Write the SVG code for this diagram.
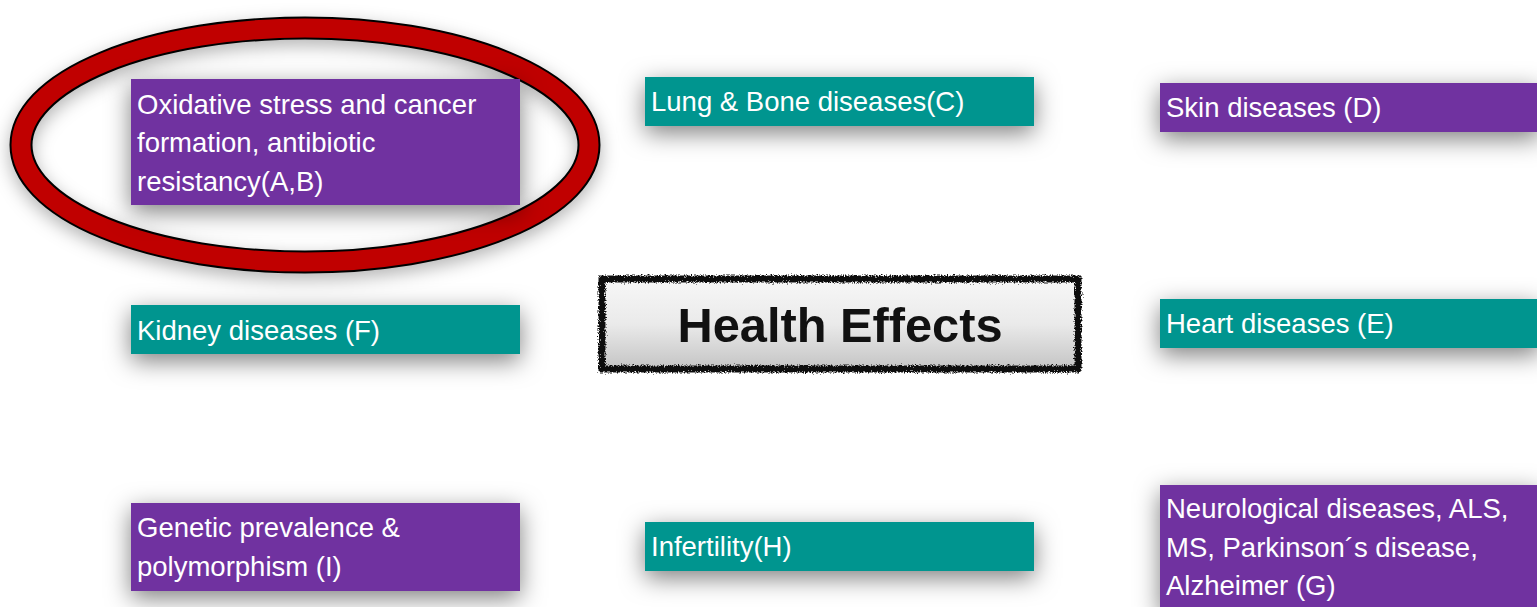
<svg xmlns="http://www.w3.org/2000/svg" width="1537" height="607" viewBox="0 0 1537 607">
<style>
.lbl{font-family:"Liberation Sans","Open Sans",Arial,sans-serif;font-size:27.5px;fill:#ffffff}
.purple{fill:#7030A0}
.teal{fill:#00958F}
.title{font-family:"Liberation Sans",Arial,sans-serif;font-size:48px;font-weight:bold;fill:#111111}
</style>
<defs>
<filter id="sh" x="-20%" y="-80%" width="140%" height="260%">
<feDropShadow dx="0" dy="7" stdDeviation="12" flood-color="#000" flood-opacity="0.5"/>
</filter>
<filter id="sh2" x="-20%" y="-30%" width="140%" height="160%">
<feDropShadow dx="0" dy="6" stdDeviation="9" flood-color="#000" flood-opacity="0.3"/>
</filter>
<filter id="rough" x="-5%" y="-20%" width="110%" height="140%">
<feTurbulence type="fractalNoise" baseFrequency="0.7" numOctaves="2" seed="3" result="n"/>
<feDisplacementMap in="SourceGraphic" in2="n" scale="6" xChannelSelector="R" yChannelSelector="G"/>
</filter>
<linearGradient id="gr" x1="0" y1="0" x2="0" y2="1">
<stop offset="0" stop-color="#f7f7f7"/>
<stop offset="0.5" stop-color="#eaeaea"/>
<stop offset="1" stop-color="#c4c4c4"/>
</linearGradient>
</defs>
<rect width="1537" height="607" fill="#ffffff"/>

<g id="highlight">
<ellipse cx="305" cy="145" rx="284" ry="117" fill="none" stroke="#000" stroke-width="23" filter="url(#sh2)"/>
<ellipse cx="305" cy="145" rx="284" ry="117" fill="none" stroke="#C00000" stroke-width="19"/>
</g>

<g id="center">
<rect x="602" y="279" width="476" height="90" fill="url(#gr)"/>
<rect x="602" y="279" width="476" height="90" fill="none" stroke="#111" stroke-width="7" filter="url(#rough)"/>
<text class="title" x="840" y="342" text-anchor="middle" textLength="325" lengthAdjust="spacingAndGlyphs">Health Effects</text>
</g>

<g id="nodeAB">
<rect class="purple" x="131" y="79" width="389" height="126" filter="url(#sh)"/>
<text class="lbl" x="137" y="114">Oxidative stress and cancer</text>
<text class="lbl" x="137" y="152">formation, antibiotic</text>
<text class="lbl" x="137" y="191">resistancy(A,B)</text>
</g>

<g id="nodeC">
<rect class="teal" x="645" y="77" width="389" height="49" filter="url(#sh)"/>
<text class="lbl" x="651" y="111">Lung &amp; Bone diseases(C)</text>
</g>

<g id="nodeD">
<rect class="purple" x="1160" y="83" width="380" height="49" filter="url(#sh)"/>
<text class="lbl" x="1166" y="117">Skin diseases (D)</text>
</g>

<g id="nodeF">
<rect class="teal" x="131" y="305" width="389" height="49" filter="url(#sh)"/>
<text class="lbl" x="137" y="340">Kidney diseases (F)</text>
</g>

<g id="nodeE">
<rect class="teal" x="1160" y="299" width="380" height="49" filter="url(#sh)"/>
<text class="lbl" x="1166" y="333">Heart diseases (E)</text>
</g>

<g id="nodeI">
<rect class="purple" x="131" y="503" width="389" height="88" filter="url(#sh)"/>
<text class="lbl" x="137" y="537">Genetic prevalence &amp;</text>
<text class="lbl" x="137" y="576">polymorphism (I)</text>
</g>

<g id="nodeH">
<rect class="teal" x="645" y="522" width="389" height="49" filter="url(#sh)"/>
<text class="lbl" x="651" y="556">Infertility(H)</text>
</g>

<g id="nodeG">
<rect class="purple" x="1160" y="485" width="380" height="125" filter="url(#sh)"/>
<text class="lbl" x="1166" y="518">Neurological diseases, ALS,</text>
<text class="lbl" x="1166" y="557">MS, Parkinson´s disease,</text>
<text class="lbl" x="1166" y="595">Alzheimer (G)</text>
</g>

<g id="connectors"></g>
</svg>
